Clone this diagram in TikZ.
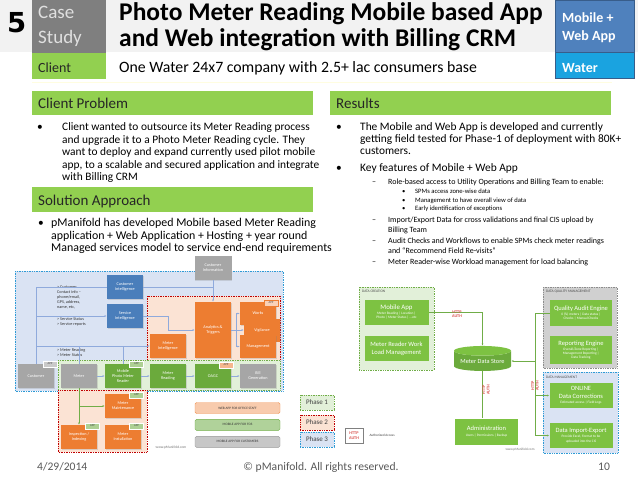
\documentclass[tikz,border=0pt]{standalone}
\usepackage{fontspec}
\setmainfont{Carlito}
\newfontfamily\digitfont{DejaVu Sans}
\usetikzlibrary{positioning,arrows.meta,shapes.geometric,shadows}

\definecolor{barGreen}{HTML}{92D050}
\definecolor{bandGray}{HTML}{F2F2F2}
\definecolor{caseGray}{HTML}{7F7F7F}
\definecolor{webBlue}{HTML}{4F81BD}
\definecolor{webBlueDark}{HTML}{385D8A}
\definecolor{waterBlue}{HTML}{1AA3E0}
\definecolor{boxBlue}{HTML}{4A7EBB}
\definecolor{boxOrange}{HTML}{ED7D31}
\definecolor{boxGreen}{HTML}{6BAA3C}
\definecolor{boxGray}{HTML}{A6A6A6}
\definecolor{zoneBlue}{HTML}{DAE3F3}
\definecolor{zoneOrange}{HTML}{FBE3D4}
\definecolor{zoneGreen}{HTML}{E2F0D9}
\definecolor{zoneGray}{HTML}{D0D0D0}
\definecolor{edgeBlue}{HTML}{2E9BD6}
\definecolor{edgeRed}{HTML}{C00000}
\definecolor{edgeGreen}{HTML}{70AD47}
\definecolor{lineBlue}{HTML}{8FAADC}
\definecolor{dsGreen}{HTML}{7DC242}
\definecolor{textGray}{HTML}{595959}
\definecolor{authRed}{HTML}{D9534F}
\definecolor{salmon}{HTML}{F8CBAD}

\newcommand\fsz[2]{\fontsize{#1}{#2}\selectfont}

\tikzset{
  txt/.style={anchor=base west, inner sep=0pt},
  ltbox/.style={rectangle, minimum width=36pt, minimum height=24pt, inner sep=0.5pt,
    align=center, text=white, font=\fsz{4.2}{5},
    drop shadow={opacity=0.25, shadow xshift=0.8pt, shadow yshift=-0.8pt}},
  blubox/.style={ltbox, fill=boxBlue},
  orgbox/.style={ltbox, fill=boxOrange},
  grnbox/.style={ltbox, fill=boxGreen},
  grybox/.style={ltbox, fill=boxGray},
  apptag/.style={rectangle, minimum width=14pt, minimum height=6pt, inner sep=0pt,
    font=\fsz{3}{3}, text=black!70, draw=white, line width=0.3pt},
  zone/.style={densely dotted, line width=0.7pt},
  rtbox/.style={rectangle, fill=dsGreen, minimum width=64pt, minimum height=25pt,
    inner sep=0.5pt, align=center, text=white, font=\fsz{3.5}{4.3}},
  wire/.style={lineBlue, line width=0.5pt},
  gwire/.style={edgeGreen, line width=0.7pt},
  arr/.style={-{Latex[length=2.2pt,width=1.8pt]}},
  legbar/.style={rectangle, rounded corners=1.5pt, minimum width=85pt, minimum height=11pt,
    inner sep=0pt, font=\fsz{3.4}{4}, text=black!80},
  phase/.style={zone, minimum width=34pt, minimum height=15pt, inner sep=0pt,
    font=\fsz{7}{8}, text=black!75},
  auth/.style={text=authRed, font=\bfseries\fsz{4.2}{4.6}, align=center, inner sep=0pt},
  note/.style={anchor=north west, inner sep=0pt, align=left, font=\fsz{4.2}{5}, text=black!80},
  zlabel/.style={anchor=west, inner sep=0pt, font=\fsz{3.6}{4}, text=black!70},
  body/.style={txt, font=\fsz{11.4}{12}},
  rbody/.style={txt, font=\fsz{11.4}{12}},
  dashl/.style={txt, font=\fsz{8}{9}},
  subl/.style={txt, font=\fsz{6.6}{7}},
}

\begin{document}
\begin{tikzpicture}[x=1pt,y=-1pt,>=Latex]
  \useasboundingbox (0,0) rectangle (638,479);
  \fill[white] (0,0) rectangle (638,479);

  % header
  \fill[bandGray] (0,0) rectangle (638,52);
  \node[anchor=west, inner sep=0pt, font=\digitfont\bfseries\fsz{27.5}{28}] (num) at (7,23) {5};
  \fill[caseGray] (32,0) rectangle (106,53);
  \fill[barGreen] (32,53) rectangle (106,79);
  \node[txt, text=white!88!black, font=\fsz{19}{20}] (case) at (38,18) {Case};
  \node[txt, text=white!88!black, font=\fsz{19}{20}] (study) at (38,43) {Study};
  \node[txt, text=black!85, font=\fsz{14}{15}] (client) at (38,72) {Client};
  \node[txt, font=\bfseries\fsz{25.5}{26}] (title1) at (119,20) {Photo Meter Reading Mobile based App};
  \node[txt, font=\bfseries\fsz{25.5}{26}] (title2) at (119,46) {and Web integration with Billing CRM};
  \node[txt, font=\fsz{15.8}{16}] (subtitle) at (119,72) {One Water 24x7 company with 2.5+ lac consumers base};
  \filldraw[fill=webBlue, draw=webBlueDark, line width=0.8pt] (555,0) rectangle (634,52);
  \filldraw[fill=waterBlue, draw=webBlueDark, line width=0.8pt] (555,52) rectangle (634,78);
  \node[txt, text=white, font=\bfseries\fsz{14}{15}] (mob) at (562,23) {Mobile +};
  \node[txt, text=white, font=\bfseries\fsz{14}{15}] (webapp) at (562,41) {Web App};
  \node[txt, text=white, font=\bfseries\fsz{14}{15}] (water) at (562,72) {Water};
  \draw[yellow!12, line width=0.6pt] (32,82) -- (612,82);

  % section bars
  \fill[barGreen] (32,91) rectangle (313,115);
  \node[txt, text=black!85, font=\fsz{15}{16}] (probhead) at (38,108) {Client Problem};
  \fill[barGreen] (32,187) rectangle (313,212);
  \node[txt, text=black!85, font=\fsz{15}{16}] (solhead) at (38,205) {Solution Approach};
  \fill[barGreen] (330,91) rectangle (611,115);
  \node[txt, text=black!85, font=\fsz{15}{16}] (reshead) at (336,108) {Results};

  % client problem
  \node[body] (probdot) at (37,130.5) {•};
  \foreach \t [count=\i] in {{Client wanted to outsource its Meter Reading process},
      {and upgrade it to a Photo Meter Reading cycle. They},
      {want to deploy and expand currently used pilot mobile},
      {app, to a scalable and secured application and integrate},
      {with Billing CRM}}
    \node[body] (prob-\i) at (62,{118+12.5*\i}) {\t};

  % solution approach
  \node[body] (soldot) at (38,226.5) {•};
  \foreach \t [count=\i] in {{pManifold has developed Mobile based Meter Reading},
      {application + Web Application + Hosting + year round},
      {Managed services model to service end-end requirements}}
    \node[body, font=\fsz{11.9}{12}] (sol-\i) at (51,{214+12.5*\i}) {\t};

  % results
  \node[rbody] (resdot1) at (336,130.5) {•};
  \node[rbody] (res-1) at (360,130.5) {The Mobile and Web App is developed and currently};
  \node[rbody] (res-2) at (360,142.5) {getting field tested for Phase-1 of deployment with 80K+};
  \node[rbody] (res-3) at (360,154.5) {customers.};
  \node[rbody] (resdot2) at (336,171.5) {•};
  \node[rbody] (res-4) at (360,171.5) {Key features of Mobile + Web App};
  \foreach \y in {184,222,243,264}
    \node[dashl] at (372,\y) {–};
  \node[dashl] (feat-1) at (388,184) {Role-based access to Utility Operations and Billing Team to enable:};
  \node[subl] (sub-1) at (415,193.3) {SPMs access zone-wise data};
  \node[subl] (sub-2) at (415,202.2) {Management to have overall view of data};
  \node[subl] (sub-3) at (415,210.3) {Early identification of exceptions};
  \foreach \y in {193.3,202.2,210.3}
    \node[subl] at (402,\y) {•};
  \node[dashl] (feat-2) at (388,222) {Import/Export Data for cross validations and final CIS upload by};
  \node[dashl] (feat-2b) at (388,232) {Billing Team};
  \node[dashl] (feat-3) at (388,243) {Audit Checks and Workflows to enable SPMs check meter readings};
  \node[dashl] (feat-3b) at (388,253) {and “Recommend Field Re-visits”};
  \node[dashl] (feat-4) at (388,264) {Meter Reader-wise Workload management for load balancing};

  % left diagram: zones
  \filldraw[zone, fill=zoneBlue, draw=edgeBlue] (15,271) rectangle (283,391);
  \filldraw[zone, fill=zoneOrange, draw=edgeRed] (147,296) rectangle (280,360);
  \filldraw[zone, fill=zoneGreen, draw=edgeGreen] (58,360) rectangle (280,390);
  \filldraw[zone, fill=zoneOrange, draw=edgeRed] (58,390) rectangle (147,452);

  % left diagram: boxes
  \node[grybox, minimum width=37pt] (custinfo) at (213,268) {Customer\\Information};
  \node[blubox] (custintel) at (125,287) {Customer\\Intelligence};
  \node[blubox] (servintel) at (125,316) {Service\\Intelligence};
  \node[orgbox, minimum height=56pt] (analytics) at (213,330) {Analytics \&\\Triggers};
  \node[orgbox, minimum height=23pt] (works) at (258,313.5) {Works};
  \node[orgbox, minimum height=23pt] (vigil) at (262,330) {Vigilance};
  \node[orgbox, minimum height=23pt] (mgmt) at (258,346.5) {Management};
  \node[orgbox] (meterintel) at (168,346) {Meter\\Intelligence};
  \node[grybox] (customer) at (36,376) {Customer};
  \node[grybox] (meter) at (79,376) {Meter};
  \node[grnbox] (photoreader) at (123,376) {Mobile\\Photo Meter\\Reader};
  \node[grnbox] (reading) at (168,376) {Meter\\Reading};
  \node[grnbox] (oagc) at (213,376) {OAGC};
  \node[grybox] (billgen) at (258,376) {Bill\\Generation};
  \node[orgbox] (maint) at (123,406) {Meter\\Maintenance};
  \node[orgbox] (inspect) at (79,437) {Inspection /\\Indexing};
  \node[orgbox] (install) at (123,437) {Meter\\Installation};

  % left diagram: notes
  \node[note] (custnote) at (57,286) {> Customer\\Contact info –\\phone/email,\\GPS, address,\\name, etc,};
  \node[note] (servnote) at (57,317) {> Service Status\\> Service reports};
  \node[note] (meternote) at (57,348) {> Meter Reading\\> Meter Status};

  % left diagram: connectors
  \draw[wire, arr] (custinfo) -- (analytics);
  \draw[wire] (customer.north) -- (customer.north |- custintel.west) -- (custintel.west);
  \draw[wire] (custintel.east) -- (custintel.east -| custinfo.south);
  \draw[wire, arr] (customer.north |- servintel.west) -- (servintel.west);
  \draw[wire, arr] (servintel.east) -- ++(25,0) |- (analytics.west);
  \draw[wire, arr] (customer.north |- meterintel.west) -- (meterintel.west);
  \draw[wire] (meter.north) -- (meter.north |- meterintel.west);
  \draw[wire] (photoreader.north) -- (photoreader.north |- meterintel.west);
  \coordinate (fan) at (236,330);
  \draw[wire] (analytics.east) -- (fan);
  \draw[wire] (fan |- works.west) -- (fan |- mgmt.west);
  \draw[wire, arr] (fan |- works.west) -- (works.west);
  \draw[wire, arr] (fan) -- (vigil.west);
  \draw[wire, arr] (fan |- mgmt.west) -- (mgmt.west);
  \foreach \a/\b in {meter/photoreader, photoreader/reading, reading/oagc, oagc/billgen}
    \draw[wire, arr] (\a) -- (\b);
  \draw[gwire, arr] (meter.south) -- (inspect.north);
  \draw[gwire, arr] (meter.south |- maint.west) -- (maint.west);

  % left diagram: app tags
  \node[apptag, fill=boxGray!60] (tagcust) at (50,364) {APP};
  \node[apptag, fill=boxGreen!55] (tagphoto) at (136.5,364) {APP};
  \node[apptag, fill=boxOrange!55] (tagoagc) at (226,365) {APP};
  \node[apptag, fill=boxOrange!35, draw=boxOrange] (tagworks) at (271,303) {APP};
  \node[apptag, fill=boxGreen!55] (tagmaint) at (136.5,395) {APP};
  \node[apptag, fill=boxGreen!55] (taginsp) at (92.5,426) {APP};
  \node[apptag, fill=boxGreen!55] (taginst) at (136.5,426) {APP};
  \node[inner sep=0pt, font=\fsz{3.6}{4}, text=black!55] (webleft) at (171,447.5) {www.pManifold.com};

  % legends
  \node[legbar, fill=salmon, draw=boxOrange!80] (legweb) at (237.5,408) {WEB APP FOR OFFICE STAFF};
  \node[legbar, fill=edgeGreen!55, draw=edgeGreen, below=5.5pt of legweb] (legfos) {MOBILE APP FOR FOS};
  \node[legbar, fill=black!22, draw=black!40, below=5.5pt of legfos] (legcust) {MOBILE APP FOR CUSTOMERS};
  \node[phase, fill=zoneGreen, draw=edgeGreen] (ph1) at (317,402.5) {Phase 1};
  \node[phase, fill=zoneOrange, draw=edgeRed] (ph2) at (317,422.5) {Phase 2};
  \node[phase, fill=zoneBlue, draw=edgeBlue] (ph3) at (317,439.5) {Phase 3};
  \node[auth, draw=black!50, line width=0.6pt, minimum width=18pt, minimum height=15pt] (authkey) at (354,435.5) {HTTP\\AUTH};
  \node[inner sep=0pt, font=\fsz{3.4}{4}, text=black!75, right=6pt of authkey] (authtxt) {Authorized Access};

  % right diagram: zones
  \filldraw[zone, fill=zoneGreen, draw=edgeGreen] (359,287) rectangle (434,370);
  \node[zlabel] (dclabel) at (362,291.5) {DATA CREATION};
  \filldraw[zone, fill=zoneGray, draw=black!45] (543,287) rectangle (617,368);
  \node[zlabel] (dqlabel) at (546,291.5) {DATA QUALITY MANAGEMENT};
  \filldraw[zone, fill=zoneBlue, draw=edgeBlue] (543,372) rectangle (618,453);
  \node[zlabel] (dmlabel) at (546,377) {DATA MANAGEMENT};

  % right diagram: boxes
  \node[rtbox] (mobileapp) at (396.5,312) {{\fsz{6.8}{7}Mobile App}\\[0.8pt]Meter Reading | Location |\\Photo | Meter Status | ...etc};
  \node[rtbox, font=\fsz{6.5}{7.8}] (workload) at (396.5,348.5) {Meter Reader Work\\Load Management};
  \node[cylinder, shape border rotate=90, aspect=0.22, minimum width=57pt, minimum height=25pt,
    cylinder uses custom fill, cylinder body fill=boxGreen, cylinder end fill=dsGreen,
    text=white, font=\fsz{6.3}{7}, inner sep=0pt] (store) at (482.5,361) {Meter Data Store};
  \node[rtbox, minimum width=62pt, minimum height=26pt] (audit) at (581,313) {{\fsz{6.5}{7}Quality Audit Engine}\\[0.8pt]0 (\%) meters | Data status |\\Checks | Manual Checks};
  \node[rtbox, minimum width=62pt, minimum height=28pt] (report) at (581,350) {{\fsz{6.5}{7}Reporting Engine}\\[0.6pt]Overall/Zone Reporting |\\Management Reporting |\\Data Tracking};
  \node[rtbox, minimum width=63pt] (online) at (581,395.5) {{\fsz{6.5}{7}ONLINE}\\[2.2pt]{\fsz{6.5}{7}Data Corrections}\\[0.8pt]Estimated access | Field Logs};
  \node[rtbox, minimum width=63pt] (import) at (581,435.5) {{\fsz{6.5}{7}Data Import-Export}\\[0.8pt]Provide Excel, Format to be\\uploaded into the CIS};
  \node[rtbox, minimum width=63pt, minimum height=26pt] (admin) at (486.5,431.5) {{\fsz{6.5}{7}Administration}\\[0.8pt]Users | Permissions | Backup};

  % right diagram: connectors
  \draw[gwire, arr] (mobileapp.east) -| (store.north);
  \node[auth] (auth1) at (457,314) {HTTP\\AUTH};
  \coordinate (qbus) at (535,313);
  \draw[gwire] (audit.west) -- (audit.west -| qbus) -- (qbus |- import.west);
  \draw[gwire, arr] (qbus |- store.east) -- (store.east);
  \draw[gwire, arr] (qbus |- online.west) -- (online.west);
  \draw[gwire, arr] (qbus |- import.west) -- (import.west);
  \draw[gwire] (store.south) -- (admin.north -| store.south);
  \node[auth, rotate=90] (auth2) at (486,390) {HTTP\\AUTH};
  \node[auth, rotate=90] (auth3) at (535,386) {HTTP\\AUTH};
  \node[inner sep=0pt, font=\fsz{3.4}{4}, text=black!55] (webright) at (520,450) {www.pManifold.com};

  % footer
  \node[txt, font=\fsz{11.6}{12}, text=textGray] (date) at (37,470) {4/29/2014};
  \node[anchor=base, inner sep=0pt, font=\fsz{11.6}{12}, text=textGray] (copy) at (321,470) {\textcopyright{} pManifold. All rights reserved.};
  \node[anchor=base, inner sep=0pt, font=\fsz{11.6}{12}, text=textGray] (page) at (604,470) {10};
\end{tikzpicture}
\end{document}
